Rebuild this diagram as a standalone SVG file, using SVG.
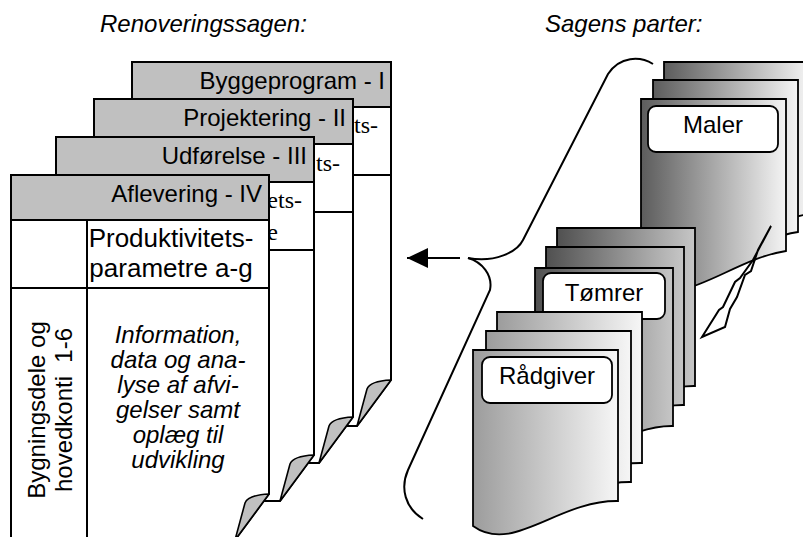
<svg xmlns="http://www.w3.org/2000/svg" width="803" height="537" viewBox="0 0 803 537">
<style>
.pg{fill:#fff;stroke:#000;stroke-width:2;stroke-linejoin:miter}
.hd{fill:#c0c0c0;stroke:#000;stroke-width:2}
.ln{fill:none;stroke:#000;stroke-width:2}
.fold{fill:#c0c0c0;stroke:#000;stroke-width:1.6;stroke-linejoin:round}
.t{font-family:"Liberation Sans",Arial,sans-serif;font-size:24px;fill:#000}
.it{font-style:italic}
.sf{font-family:"Liberation Serif","Times New Roman",serif;font-size:24px;fill:#000}
.doc{stroke:#000;stroke-width:1.8;stroke-linejoin:miter}
.lbl{fill:#fff;stroke:#000;stroke-width:1.8}
.brace{fill:none;stroke:#000;stroke-width:2}
</style>
<defs>
<linearGradient id="gM" x1="0" y1="0" x2="1" y2="0"><stop offset="0" stop-color="#5c5c5c"/><stop offset="1" stop-color="#f4f4f4"/></linearGradient>
<linearGradient id="gT" x1="0" y1="0" x2="1" y2="0"><stop offset="0" stop-color="#505050"/><stop offset="1" stop-color="#c6c6c6"/></linearGradient>
<linearGradient id="gR" x1="0" y1="0" x2="1" y2="0"><stop offset="0" stop-color="#9c9c9c"/><stop offset="1" stop-color="#f6f6f6"/></linearGradient>
<path id="docM" d="M0,0 H145 V152 C90,160 40,212 0,185 Z"/>
<path id="docT" d="M0,0 H138 V158 C82,157 38,214 0,184 Z"/>
<path id="docR" d="M0,0 H145 V151 C85,150 40,205 0,176 Z"/>
<marker id="arr" markerUnits="userSpaceOnUse" markerWidth="22" markerHeight="22" refX="21" refY="10" orient="auto">
<path d="M0,0 L21,10 L0,20 Z" fill="#000"/>
</marker>
</defs>
<rect width="803" height="537" fill="#fff"/>

<text class="t it" x="100" y="32">Renoveringssagen:</text>
<text class="t it" x="545" y="32">Sagens parter:</text>

<!-- Left stack -->
<g id="page-byggeprogram">
<path class="pg" d="M132,62 H391 V380 L357,426 H132 Z"/>
<line class="ln" x1="132" y1="175" x2="391" y2="175"/>
<line class="ln" x1="208" y1="107" x2="208" y2="426"/>
<rect class="hd" x="132" y="62" width="259" height="45"/>
<text class="t" x="385" y="89" text-anchor="end">Byggeprogram - I</text>
<text class="sf" x="378" y="133" text-anchor="end">ts-</text>
<path class="fold" d="M391,380 Q370,381 367,389 L357,426 Z"/>
</g>
<g id="page-projektering">
<path class="pg" d="M94,99 H353 V417 L319,463 H94 Z"/>
<line class="ln" x1="94" y1="212" x2="353" y2="212"/>
<line class="ln" x1="170" y1="144" x2="170" y2="463"/>
<rect class="hd" x="94" y="99" width="259" height="45"/>
<text class="t" x="346" y="126" text-anchor="end">Projektering - II</text>
<text class="sf" x="340" y="171" text-anchor="end">ts-</text>
<path class="fold" d="M353,417 Q332,418 329,426 L319,463 Z"/>
</g>
<g id="page-udfoerelse">
<path class="pg" d="M56,137 H314 V455 L280,501 H56 Z"/>
<line class="ln" x1="56" y1="250" x2="314" y2="250"/>
<line class="ln" x1="132" y1="182" x2="132" y2="501"/>
<rect class="hd" x="56" y="137" width="258" height="45"/>
<text class="t" x="307" y="164" text-anchor="end">Udførelse - III</text>
<text class="sf" x="302" y="208" text-anchor="end">ets-</text>
<text class="sf" x="278" y="240" text-anchor="end">e</text>
<path class="fold" d="M314,455 Q293,456 290,464 L280,501 Z"/>
</g>
<g id="page-aflevering">
<path class="pg" d="M11,175 H269 V494 L235,540 H11 Z"/>
<line class="ln" x1="11" y1="288" x2="269" y2="288"/>
<line class="ln" x1="87" y1="220" x2="87" y2="540"/>
<rect class="hd" x="11" y="175" width="258" height="45"/>
<text class="t" x="262" y="202" text-anchor="end">Aflevering - IV</text>
<text class="t" x="171" y="247" text-anchor="middle" style="font-size:26px">Produktivitets-</text>
<text class="t" x="171" y="277" text-anchor="middle" style="font-size:26px">parametre a-g</text>
<g class="t it" text-anchor="middle">
<text x="178" y="343">Information,</text>
<text x="178" y="368">data og ana-</text>
<text x="178" y="393">lyse af afvi-</text>
<text x="178" y="418">gelser samt</text>
<text x="178" y="443">oplæg til</text>
<text x="178" y="468">udvikling</text>
</g>
<text class="t" transform="translate(45,410) rotate(-90)" text-anchor="middle">Bygningsdele og</text>
<text class="t" transform="translate(72,410) rotate(-90)" text-anchor="middle" style="white-space:pre">hovedkonti  1-6</text>
<path class="fold" d="M269,494 Q248,495 245,503 L235,540 Z"/>
</g>

<!-- Connectors -->
<g id="connectors">
<path class="brace" d="M653,64 C640,56 620,56 608,74 L523,240 C517,252 495,263 468,258"/>
<path class="brace" d="M468,258 C482,262 493,275 490,290 L408,470 C400,488 405,508 423,519"/>
<line x1="460" y1="258" x2="407" y2="258" stroke="#000" stroke-width="2" marker-end="url(#arr)"/>
</g>

<!-- Right stacks -->
<g id="stack-maler">
<use href="#docM" class="doc" transform="translate(664,62)" fill="url(#gM)"/>
<use href="#docM" class="doc" transform="translate(653,80)" fill="url(#gM)"/>
<use href="#docM" class="doc" transform="translate(641,99)" fill="url(#gM)"/>
<rect class="lbl" x="648" y="106" width="130" height="46" rx="8"/>
<text class="t" x="713" y="133" text-anchor="middle">Maler</text>
<polygon points="771,226 753,260 740,278 735,282 723,307 719,310 702,337 725,327 730,309 737,297 745,275 751,271 758,250" fill="#fff" stroke="#000" stroke-width="2" stroke-linejoin="miter"/>
</g>
<g id="stack-toemrer">
<use href="#docT" class="doc" transform="translate(557,228)" fill="url(#gT)"/>
<use href="#docT" class="doc" transform="translate(546,247)" fill="url(#gT)"/>
<use href="#docT" class="doc" transform="translate(535,268)" fill="url(#gT)"/>
<rect class="lbl" x="543" y="273" width="122" height="46" rx="8"/>
<text class="t" x="604" y="301" text-anchor="middle">Tømrer</text>
</g>
<g id="stack-raadgiver">
<use href="#docR" class="doc" transform="translate(497,312)" fill="url(#gR)"/>
<use href="#docR" class="doc" transform="translate(486,331)" fill="url(#gR)"/>
<use href="#docR" class="doc" transform="translate(473,350)" fill="url(#gR)"/>
<rect class="lbl" x="482" y="357" width="130" height="46" rx="8"/>
<text class="t" x="547" y="384" text-anchor="middle">Rådgiver</text>
</g>
</svg>
